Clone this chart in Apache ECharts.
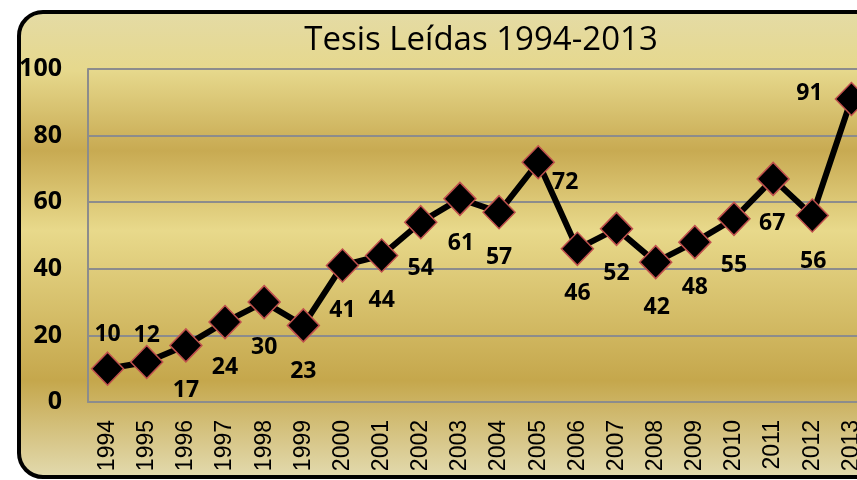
<!DOCTYPE html>
<html>
<head>
<meta charset="utf-8">
<script src="https://cdn.jsdelivr.net/npm/echarts@6/dist/echarts.min.js"></script>
<style>
html,body{margin:0;padding:0;overflow:hidden;background:#fff;}
#c{width:900px;height:480px;}
</style>
</head>
<body>
<div id="c"></div>
<script>
const years = ['1994','1995','1996','1997','1998','1999','2000','2001','2002','2003','2004','2005','2006','2007','2008','2009','2010','2011','2012','2013'];
const tesis = [10,12,17,24,30,23,41,44,54,61,57,72,46,52,42,48,55,67,56,91];
const yTicks = [0,20,40,60,80,100];
const titleText = 'Tesis Leídas 1994-2013';

const labelOffsets = [[0,-34],[0,-27],[0,45],[0,45],[0,45],[0,46],[0,45],[0,45],[0,46],[1,45],[0,45],[27,20],[0,45],[0,45],[1,45],[0,45],[0,47],[-1,45],[1,46],[-42,-6]];

const chart = echarts.init(document.getElementById('c'), null, {renderer:'canvas'});
const font = '"Open Sans", "Noto Sans", sans-serif';
const xfont = '"Liberation Sans", "Open Sans", sans-serif';

chart.setOption({
  animation:false,
  graphic:{elements:[{
    type:'rect', z:-10, silent:true,
    shape:{x:19,y:12,width:900,height:465,r:24},
    style:{
      fill:{type:'linear',x:0,y:0,x2:0,y2:1,colorStops:[
        {offset:0,color:'#e4dba6'},
        {offset:0.13,color:'#e6d88c'},
        {offset:0.30,color:'#c8aa52'},
        {offset:0.47,color:'#e8d98b'},
        {offset:0.79,color:'#c5a74c'},
        {offset:1,color:'#e3dbb0'}
      ]},
      stroke:'#000', lineWidth:4
    }
  }]},
  title:{
    text:titleText, left:476, top:19, textAlign:'center',
    textStyle:{fontFamily:font,fontSize:33,fontWeight:'normal',color:'#000'}
  },
  grid:{left:88,top:69,width:783,height:333,containLabel:false,outerBoundsMode:'none'},
  xAxis:{
    type:'category', data:years, boundaryGap:true,
    axisLine:{show:true,lineStyle:{color:'#8c8c8c',width:2}},
    axisTick:{show:false},
    axisLabel:{rotate:90,interval:0,margin:18,fontFamily:xfont,fontSize:23,color:'#000'}
  },
  yAxis:{
    type:'value', min:yTicks[0], max:yTicks[yTicks.length-1], interval:yTicks[1]-yTicks[0],
    axisLine:{show:true,lineStyle:{color:'#8c8c8c',width:2}},
    axisTick:{show:false},
    splitLine:{show:true,lineStyle:{color:'#8c8c8c',width:2}},
    axisLabel:{margin:26,fontFamily:font,fontSize:25,fontWeight:'bold',color:'#000'}
  },
  series:[{
    type:'line',
    data:tesis.map((v,i)=>({value:v,label:{offset:labelOffsets[i]}})),
    lineStyle:{color:'#000',width:6},
    symbol:'diamond', symbolSize:[32,33],
    itemStyle:{color:'#000',borderColor:'#c0504d',borderWidth:1.5},
    label:{show:true,position:'inside',fontFamily:font,fontSize:23,fontWeight:'bold',color:'#000'},
    z:3
  }]
});
</script>
</body>
</html>
